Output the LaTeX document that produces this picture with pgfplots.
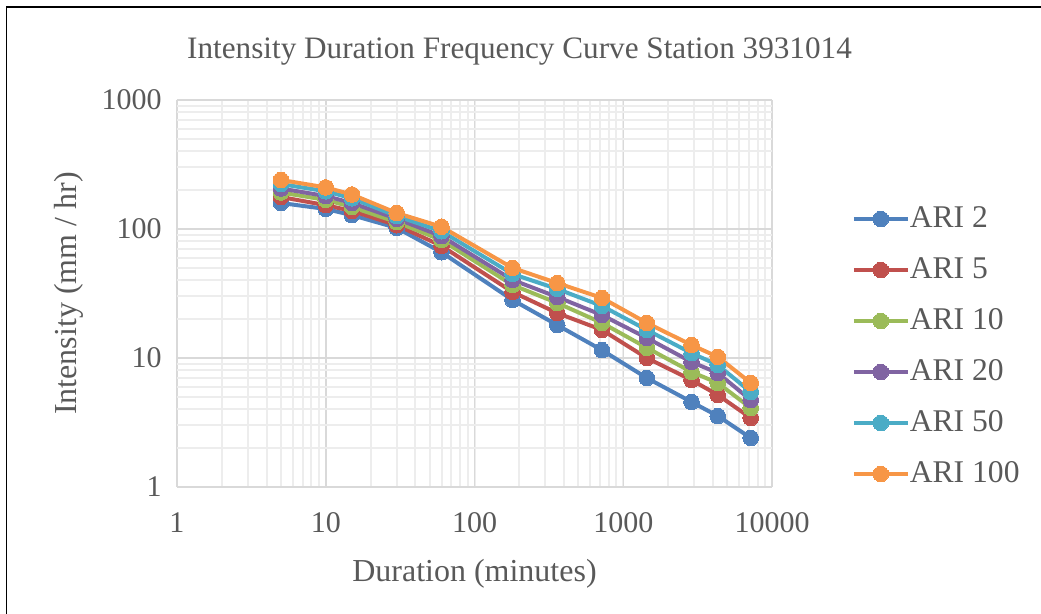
\documentclass[border=0pt]{standalone}
\usepackage{pgfplots}
\usepackage{pgfplotstable}
\usepackage{fontspec}
\setmainfont{Liberation Serif}
\pgfplotsset{compat=1.18}

\definecolor{txtgray}{HTML}{595959}
\definecolor{gridmajor}{HTML}{D9D9D9}
\definecolor{gridminor}{HTML}{EDEDED}
\definecolor{ariA}{HTML}{4F81BD}
\definecolor{ariB}{HTML}{C0504D}
\definecolor{ariC}{HTML}{9BBB59}
\definecolor{ariD}{HTML}{8064A2}
\definecolor{ariE}{HTML}{4BACC6}
\definecolor{ariF}{HTML}{F79646}

% duration (min) vs intensity (mm/hr) per ARI
\pgfplotstableread{
dur   a2     a5     a10    a20    a50    a100
5     159    177    192    206    223    240
10    143    153    168    180    196    210
15    128    138    148    159    173    185
30    102    107    113    120    126    133
60    66     74     82     88     96     104
180   28.2   32.5   36.8   40.3   44.8   49.9
360   18.0   22.3   26.7   29.7   34.3   38.1
720   11.5   16.5   18.7   21.5   25.3   29.2
1440  7.0    10.0   12.0   14.3   16.5   18.7
2880  4.56   6.75   7.79   9.31   10.9   12.6
4320  3.55   5.17   6.40   7.65   8.83   10.2
7200  2.40   3.43   4.10   4.72   5.45   6.41
}\idf

\pgfplotsset{
  ari/.style={color=#1, line width=2pt, mark=*, mark size=3.9pt,
              mark options={solid, fill=#1, draw=#1, line width=0pt}},
}

\begin{document}
\begin{tikzpicture}
\useasboundingbox (0,0) rectangle (520.5pt,307pt);
\draw[line width=0.8pt] (3.25pt,0) -- (3.25pt,303.4pt) -- (520.5pt,303.4pt);
\node[anchor=base, text=txtgray, font=\fontsize{15.6pt}{18pt}\selectfont]
  at (259.75pt,277.85pt) {Intensity Duration Frequency Curve Station 3931014};

\begin{axis}[
  scale only axis,
  width=297.5pt, height=193.5pt,
  at={(88.5pt,63.5pt)}, anchor=south west,
  xmode=log, ymode=log,
  xmin=1, xmax=10000, ymin=1, ymax=1000,
  xtick={1,10,100,1000,10000}, xticklabels={1,10,100,1000,10000},
  ytick={1,10,100,1000}, yticklabels={1,10,100,1000},
  grid=both,
  major grid style={draw=gridmajor, line width=0.75pt},
  minor grid style={draw=gridminor, line width=1pt},
  major tick length=0pt, minor tick length=0pt,
  axis line style={draw=none},
  tick label style={text=txtgray, inner sep=0pt, font=\fontsize{15pt}{18pt}\selectfont},
  /pgf/number format/assume math mode=true,
  yticklabel style={anchor=east, xshift=-7.5pt},
  xticklabel style={anchor=north, yshift=-12.5pt},
  every axis x label/.style={at={(axis description cs:0.5,-0.2455)}, anchor=base},
  every axis y label/.style={at={(axis description cs:-0.1681,0.5)}, rotate=90, anchor=base},
  label style={text=txtgray, font=\fontsize{16pt}{19pt}\selectfont},
  xlabel={Duration (minutes)},
  ylabel={Intensity (mm / hr)},
  legend style={at={(1.1335,0.363)}, anchor=west, draw=none, fill=none,
    inner sep=0pt, row sep=11.5pt, column sep=0pt,
    font=\fontsize{15.8pt}{19pt}\selectfont, text=txtgray,
    nodes={inner sep=0pt, text height=11pt, text depth=3pt}},
  legend cell align=left,
  legend image code/.code={
    \draw[mark repeat=2, mark phase=2] plot coordinates {(0pt,0pt) (13.5pt,0pt) (27pt,0pt)};
  },
]
\addplot[ari=ariA] table[x=dur, y=a2] {\idf};
\addplot[ari=ariB] table[x=dur, y=a5] {\idf};
\addplot[ari=ariC] table[x=dur, y=a10] {\idf};
\addplot[ari=ariD] table[x=dur, y=a20] {\idf};
\addplot[ari=ariE] table[x=dur, y=a50] {\idf};
\addplot[ari=ariF] table[x=dur, y=a100] {\idf};
\legend{ARI 2, ARI 5, ARI 10, ARI 20, ARI 50, ARI 100}
\end{axis}
\end{tikzpicture}
\end{document}
